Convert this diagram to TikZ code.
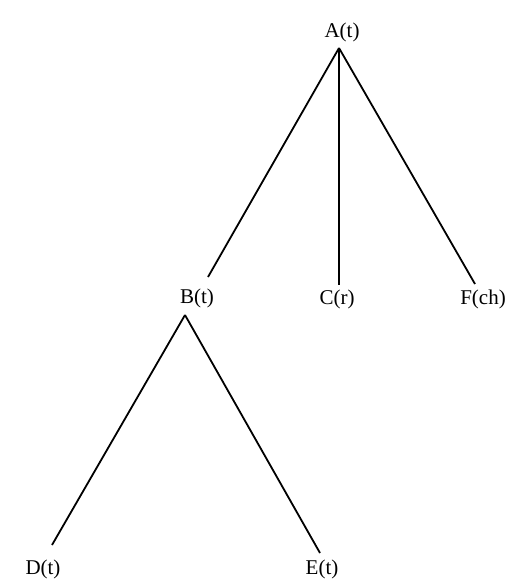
\documentclass[tikz,border=0pt]{standalone}
\usepackage{fontspec}
\setmainfont{Liberation Serif}
\begin{document}
\begin{tikzpicture}[x=1pt,y=-1pt,
  lbl/.style={inner sep=0pt, font=\fontsize{21}{24}\selectfont},
  branch/.style={line width=1.8pt},
  stem/.style={line width=2.4pt}]
\useasboundingbox (0,0) rectangle (517,587);
% labels
\node[lbl] (A) at (342,32) {A(t)};
\node[lbl] (B) at (197,298) {B(t)};
\node[lbl] (C) at (337,299) {C(r)};
\node[lbl] (F) at (483,299) {F(ch)};
\node[lbl] (D) at (43,569) {D(t)};
\node[lbl] (E) at (322,569) {E(t)};
% branch points and line ends
\coordinate (a) at (339,48);
\coordinate (bt) at (208,277);
\coordinate (ct) at (339,285);
\coordinate (ft) at (475,284);
\coordinate (b) at (185,315);
\coordinate (dt) at (52,545);
\coordinate (et) at (320,553);
% edges
\draw[branch] (a) -- (bt);
\draw[stem] (a) -- (ct);
\draw[branch] (a) -- (ft);
\draw[branch] (b) -- (dt);
\draw[branch] (b) -- (et);
\end{tikzpicture}
\end{document}
